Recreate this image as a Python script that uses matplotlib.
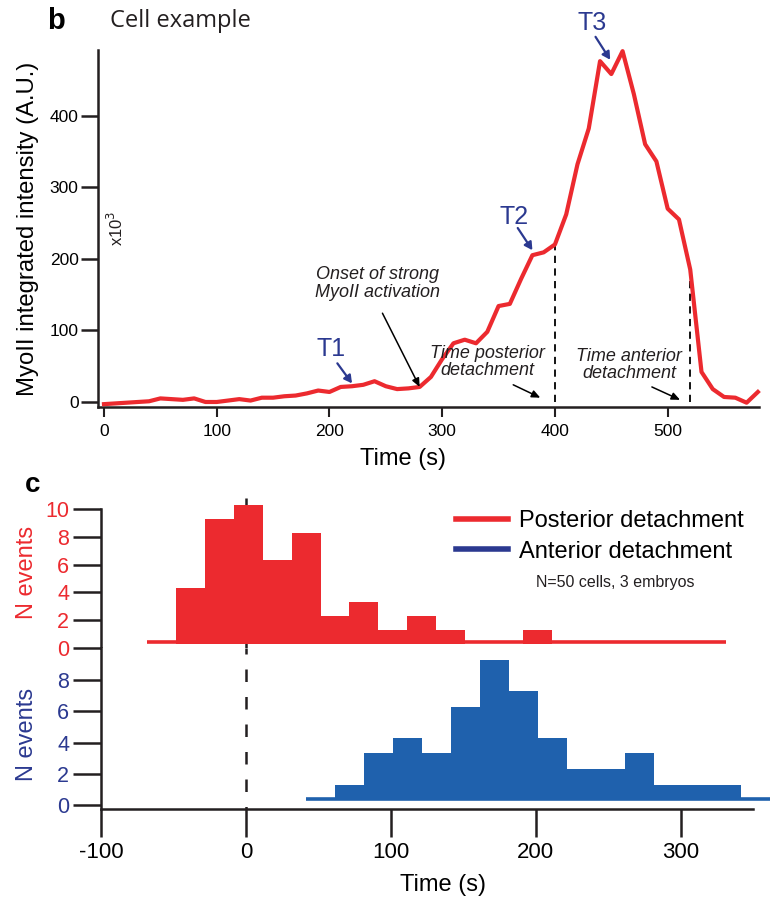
import matplotlib
matplotlib.use("Agg")
import matplotlib.pyplot as plt

plt.rcParams['font.family'] = ['Liberation Sans', 'DejaVu Sans']

# --- panel b: single cell trace (x10^3 A.U.) ---
time_s = [0, 10, 20, 30, 40, 50, 60, 70, 80, 90, 100, 110, 120, 130, 140, 150,
          160, 170, 180, 190, 200, 210, 220, 230, 240, 250, 260, 270, 280, 290,
          300, 310, 320, 330, 340, 350, 360, 370, 380, 390, 400, 410, 420, 430,
          440, 450, 460, 470, 480, 490, 500, 510, 520, 530, 540, 550, 560, 570, 580]
myo = [-3, -2, -1, 0, 1, 5, 4, 3, 5, 0, 0, 2, 4, 2, 6, 6,
       8, 9, 12, 16, 14, 21, 22, 24, 29, 22, 18, 19, 21, 35,
       60, 82, 87, 82, 98, 134, 137, 172, 205, 209, 220, 262, 332, 382,
       476, 458, 490, 430, 360, 336, 270, 255, 185, 42, 18, 7, 6, -1, 14]

# --- panel c: histograms of detachment times (20 s bins) ---
post_edges = [-68.5, -48.5, -28.5, -8.5, 11.5, 31.5, 51.5, 71.5, 91.5, 111.5,
              131.5, 151.5, 171.5, 191.5, 211.5, 231.5, 251.5, 271.5, 291.5, 311.5, 331.5]
post_counts = [0, 4, 9, 10, 6, 8, 2, 3, 1, 2, 1, 0, 0, 1, 0, 0, 0, 0, 0, 0]
ant_edges = [41.5, 61.5, 81.5, 101.5, 121.5, 141.5, 161.5, 181.5, 201.5, 221.5,
             241.5, 261.5, 281.5, 301.5, 321.5, 341.5, 361.5]
ant_counts = [0, 1, 3, 4, 3, 6, 9, 7, 4, 2, 2, 3, 1, 1, 1, 0]

RED = '#ec2a2f'
HBLUE = '#1f61ad'
NAVY = '#2b3990'
INK = '#231f20'

W, H = 777, 902
fig = plt.figure(figsize=(W / 100, H / 100), dpi=100)


def px_axes(x0, y0, x1, y1):
    return fig.add_axes([x0 / W, 1 - y1 / H, (x1 - x0) / W, (y1 - y0) / H])


# ================= panel b =================
ax = px_axes(98, 50, 759, 407)
ax.plot(time_s, myo, color=RED, lw=3.0, clip_on=False, zorder=3)
ax.set_xlim(-5.3, 581)
ax.set_ylim(-7, 491.6)
for s in ['top', 'right']:
    ax.spines[s].set_visible(False)
for s in ['left', 'bottom']:
    ax.spines[s].set_linewidth(1.8)
    ax.spines[s].set_color(INK)
ax.set_xticks([0, 100, 200, 300, 400, 500])
ax.set_yticks([0, 100, 200, 300, 400])
ax.tick_params(axis='y', length=12, width=1.8, color=INK, labelsize=12.5, pad=2)
ax.tick_params(axis='x', length=7, width=1.5, color=INK, labelsize=12.5, pad=5)
ax.set_xlabel('Time (s)', fontsize=17)
ax.xaxis.set_label_coords(0.461, -0.115)
ax.set_ylabel('MyoII integrated intensity (A.U.)', fontsize=17.2)
ax.yaxis.set_label_coords(-0.089, 0.50)

# detachment markers
i400 = time_s.index(400)
i520 = time_s.index(520)
ax.plot([400, 400], [0, myo[i400]], color='black', lw=1.3, ls=(0, (4, 3)), zorder=2)
ax.plot([520, 520], [0, myo[i520]], color='black', lw=1.3, ls=(0, (4, 3)), zorder=2)

blue_arrow = dict(arrowstyle='-|>,head_length=0.45,head_width=0.25', color=NAVY, lw=1.6,
                  shrinkA=0, shrinkB=0)
ax.text(201, 74, 'T1', color=NAVY, fontsize=18, ha='center', va='center')
ax.annotate('', xy=(220, 26), xytext=(207, 54), arrowprops=blue_arrow)
ax.text(364, 258, 'T2', color=NAVY, fontsize=18, ha='center', va='center')
ax.annotate('', xy=(380, 212), xytext=(367, 243), arrowprops=blue_arrow)
ax.text(433, 529, 'T3', color=NAVY, fontsize=18, ha='center', va='center', clip_on=False)
ax.annotate('', xy=(449, 478), xytext=(436, 510), arrowprops=blue_arrow,
            annotation_clip=False)

black_arrow = dict(arrowstyle='-|>,head_length=0.5,head_width=0.22', color='black', lw=1.1,
                   shrinkA=0, shrinkB=0)
note_kw = dict(fontsize=13, style='italic', ha='center', va='top', color=INK, linespacing=1.05)
ax.text(243, 190, 'Onset of strong\nMyoII activation', **note_kw)
ax.annotate('', xy=(280, 21), xytext=(247, 124), arrowprops=black_arrow)
ax.text(340, 80, 'Time posterior\ndetachment', **note_kw)
ax.annotate('', xy=(387, 6), xytext=(363, 24), arrowprops=black_arrow)
ax.text(466, 76, 'Time anterior\ndetachment', **note_kw)
ax.annotate('', xy=(511, 3), xytext=(486, 21), arrowprops=black_arrow)
ax.text(10.6, 243, 'x10$^3$', rotation=90, fontsize=12, ha='center', va='center', color=INK)

fig.text(56 / W, 1 - 21 / H, 'b', fontsize=21, fontweight='bold', ha='center', va='center')
fig.text(110 / W, 1 - 21 / H, 'Cell example', fontsize=17, family=['Open Sans', 'DejaVu Sans'],
         ha='left', va='center', color=INK)

# ================= panel c =================
ax_r = px_axes(101, 488, 753, 648)
ax_b = px_axes(101, 648, 753, 809)
for a in (ax_r, ax_b):
    a.set_xlim(-100, 350)
    for s in ['top', 'right']:
        a.spines[s].set_visible(False)
    a.spines['left'].set_linewidth(1.8)
    a.spines['left'].set_color(INK)
    a.tick_params(axis='y', length=20, width=1.8, color=INK, labelsize=15.5, pad=3)

ax_r.set_ylim(0, 11.5)
ax_r.spines['left'].set_bounds(0, 10)
ax_r.spines['bottom'].set_visible(False)
ax_r.set_xticks([])
ax_r.set_yticks([0, 2, 4, 6, 8, 10])
ax_r.tick_params(axis='y', labelcolor=RED)

ax_b.set_ylim(-0.26, 10.06)
ax_b.spines['left'].set_bounds(-0.26, 10.06)
ax_b.set_yticks([0, 2, 4, 6, 8])
ax_b.tick_params(axis='y', labelcolor=NAVY)
ax_b.spines['bottom'].set_linewidth(1.8)
ax_b.spines['bottom'].set_color(INK)
ax_b.set_xticks([-100, 0, 100, 200, 300])
ax_b.set_xticklabels(['-100', '0', '100', '200', '300'])
ax_b.tick_params(axis='x', length=20, width=1.8, color=INK, labelsize=16, pad=4)
ax_b.set_xlabel('Time (s)', fontsize=17)
ax_b.xaxis.set_label_coords(0.525, -0.405)

# red histogram
ax_r.plot([post_edges[0], post_edges[-1]], [0.45, 0.45], color=RED, lw=2.6,
          solid_capstyle='butt', zorder=1)
ax_r.bar(post_edges[:-1], post_counts, width=20, align='edge', bottom=0.3,
         color=RED, edgecolor='none', zorder=2)
# blue histogram
ax_b.plot([ant_edges[0], ant_edges[-1]], [0.38, 0.38], color=HBLUE, lw=2.6,
          solid_capstyle='butt', zorder=1, clip_on=False)
ax_b.bar(ant_edges[:-1], ant_counts, width=20, align='edge', bottom=0.3,
         color=HBLUE, edgecolor='none', zorder=2)

# zero reference
ax_r.plot([0, 0], [0, 11.5], color=INK, lw=1.8, ls=(0, (5, 6)), zorder=0)
ax_b.plot([0, 0], [-0.26, 10.06], color=INK, lw=1.8, ls=(4, (5, 6)), zorder=0)

ax_r.set_ylabel('N events', color=RED, fontsize=17)
ax_r.yaxis.set_label_coords(-0.096, 0.47)
ax_b.set_ylabel('N events', color=NAVY, fontsize=17)
ax_b.yaxis.set_label_coords(-0.096, 0.466)

ax_r.plot([], [], color=RED, lw=4, label='Posterior detachment')
ax_r.plot([], [], color=NAVY, lw=4, label='Anterior detachment')
ax_r.legend(loc='upper left', bbox_to_anchor=((456 - 101) / 652, 0.86), frameon=False,
            fontsize=17, handlelength=2.2, handletextpad=0.45, labelspacing=0.35,
            borderaxespad=0.0, borderpad=0.0)
ax_r.text((615 - 101) / 652, (648 - 583) / 160, 'N=50 cells, 3 embryos', fontsize=11.5,
          transform=ax_r.transAxes, ha='center', va='center', color=INK)

fig.text(33 / W, 1 - 485 / H, 'c', fontsize=20, fontweight='bold', ha='center', va='center')

fig.savefig('out.png', dpi=100)
